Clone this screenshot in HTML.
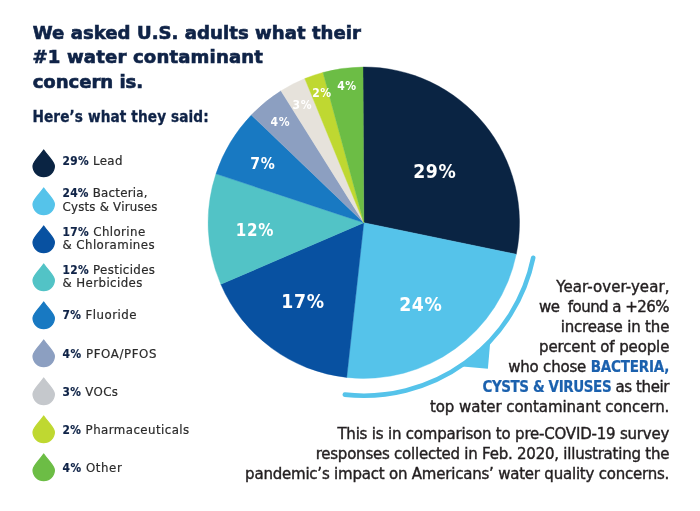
<!DOCTYPE html><html lang="en"><head><meta charset="utf-8"><title>Water contaminant concerns</title><style>
html,body{margin:0;padding:0;background:#fff}
#w{position:relative;width:700px;height:511px;overflow:hidden;background:#fff;font-family:"DejaVu Sans","Liberation Sans",sans-serif}
.t{position:absolute;white-space:nowrap;line-height:24px;height:24px}
.h{font-weight:700;color:#0f2347;-webkit-text-stroke:0.65px #0f2347}
.s{font-family:"DejaVu Sans Condensed","DejaVu Sans","Liberation Sans",sans-serif;font-weight:700;color:#0f2347;-webkit-text-stroke:0.3px #0f2347}
.g{color:#2b2b2b;-webkit-text-stroke:0.2px #2b2b2b}
.g b{font-family:"DejaVu Sans Condensed","DejaVu Sans","Liberation Sans",sans-serif;color:#0f2347;-webkit-text-stroke:0.2px #0f2347}
.p{color:#231f20;-webkit-text-stroke:0.4px #231f20}
.p i{font-family:"DejaVu Sans Condensed","DejaVu Sans","Liberation Sans",sans-serif;font-style:normal;font-weight:700;color:#1b61ae;-webkit-text-stroke:0.2px #1b61ae}
</style></head><body><div id="w"><svg width="700" height="511" viewBox="0 0 700 511" style="position:absolute;left:0;top:0"><path d="M363.8,222.7 L362.98,67.00 A155.7,155.7 0 0 1 516.26,254.27 Z" fill="#0a2443" stroke="#0a2443" stroke-width="0.4"/><path d="M363.8,222.7 L516.26,254.27 A155.7,155.7 0 0 1 346.71,377.46 Z" fill="#55c3ea" stroke="#55c3ea" stroke-width="0.4"/><path d="M363.8,222.7 L346.71,377.46 A155.7,155.7 0 0 1 220.80,284.29 Z" fill="#0851a1" stroke="#0851a1" stroke-width="0.4"/><path d="M363.8,222.7 L220.80,284.29 A155.7,155.7 0 0 1 215.97,173.81 Z" fill="#52c3c6" stroke="#52c3c6" stroke-width="0.4"/><path d="M363.8,222.7 L215.97,173.81 A155.7,155.7 0 0 1 251.33,115.03 Z" fill="#1879c2" stroke="#1879c2" stroke-width="0.4"/><path d="M363.8,222.7 L251.33,115.03 A155.7,155.7 0 0 1 280.99,90.85 Z" fill="#8c9fc1" stroke="#8c9fc1" stroke-width="0.4"/><path d="M363.8,222.7 L280.99,90.85 A155.7,155.7 0 0 1 304.79,78.61 Z" fill="#e6e2db" stroke="#e6e2db" stroke-width="0.4"/><path d="M363.8,222.7 L304.79,78.61 A155.7,155.7 0 0 1 322.98,72.45 Z" fill="#bfd831" stroke="#bfd831" stroke-width="0.4"/><path d="M363.8,222.7 L322.98,72.45 A155.7,155.7 0 0 1 362.98,67.00 Z" fill="#6cbd45" stroke="#6cbd45" stroke-width="0.4"/><path d="M533.21,257.78 A173.0,173.0 0 0 1 344.82,394.66" fill="none" stroke="#55c3ea" stroke-width="4.6" stroke-linecap="round"/><path d="M490.1,343.2 L487.9,368.8 L462.5,366.6 L477,350 Z" fill="#55c3ea"/><g fill="#fff" font-family="DejaVu Sans Condensed, DejaVu Sans, Liberation Sans, sans-serif" font-weight="700"><text x="434.85" y="177.8" font-size="19.2" letter-spacing="0.7" text-anchor="middle">29%</text><text x="420.85" y="311" font-size="19.2" letter-spacing="0.7" text-anchor="middle">24%</text><text x="302.95" y="308" font-size="19.2" letter-spacing="0.7" text-anchor="middle">17%</text><text x="254.95" y="236" font-size="16.8" letter-spacing="0.7" text-anchor="middle">12%</text><text x="262.95" y="169" font-size="15.6" letter-spacing="0.7" text-anchor="middle">7%</text><text x="280.30" y="126" font-size="12" letter-spacing="0.6" text-anchor="middle">4%</text><text x="302.30" y="109" font-size="12" letter-spacing="0.6" text-anchor="middle">3%</text><text x="321.90" y="97" font-size="12" letter-spacing="0.6" text-anchor="middle">2%</text><text x="346.90" y="90" font-size="12" letter-spacing="0.6" text-anchor="middle">4%</text></g><path transform="translate(43.7,149)" d="M0,1 C-6.4,9.8 -10.7,13.4 -10.7,16.9 A10.7,10.7 0 1 0 10.7,16.9 C10.7,13.4 6.4,9.8 0,1Z" fill="#0a2443" stroke="#0a2443" stroke-width="1.2" stroke-linejoin="round"/><path transform="translate(43.7,187)" d="M0,1 C-6.4,9.8 -10.7,13.4 -10.7,16.9 A10.7,10.7 0 1 0 10.7,16.9 C10.7,13.4 6.4,9.8 0,1Z" fill="#55c3ea" stroke="#55c3ea" stroke-width="1.2" stroke-linejoin="round"/><path transform="translate(43.7,225)" d="M0,1 C-6.4,9.8 -10.7,13.4 -10.7,16.9 A10.7,10.7 0 1 0 10.7,16.9 C10.7,13.4 6.4,9.8 0,1Z" fill="#0851a1" stroke="#0851a1" stroke-width="1.2" stroke-linejoin="round"/><path transform="translate(43.7,263)" d="M0,1 C-6.4,9.8 -10.7,13.4 -10.7,16.9 A10.7,10.7 0 1 0 10.7,16.9 C10.7,13.4 6.4,9.8 0,1Z" fill="#52c3c6" stroke="#52c3c6" stroke-width="1.2" stroke-linejoin="round"/><path transform="translate(43.7,301)" d="M0,1 C-6.4,9.8 -10.7,13.4 -10.7,16.9 A10.7,10.7 0 1 0 10.7,16.9 C10.7,13.4 6.4,9.8 0,1Z" fill="#1879c2" stroke="#1879c2" stroke-width="1.2" stroke-linejoin="round"/><path transform="translate(43.7,339)" d="M0,1 C-6.4,9.8 -10.7,13.4 -10.7,16.9 A10.7,10.7 0 1 0 10.7,16.9 C10.7,13.4 6.4,9.8 0,1Z" fill="#8c9fc1" stroke="#8c9fc1" stroke-width="1.2" stroke-linejoin="round"/><path transform="translate(43.7,377)" d="M0,1 C-6.4,9.8 -10.7,13.4 -10.7,16.9 A10.7,10.7 0 1 0 10.7,16.9 C10.7,13.4 6.4,9.8 0,1Z" fill="#c5c8cc" stroke="#c5c8cc" stroke-width="1.2" stroke-linejoin="round"/><path transform="translate(43.7,415)" d="M0,1 C-6.4,9.8 -10.7,13.4 -10.7,16.9 A10.7,10.7 0 1 0 10.7,16.9 C10.7,13.4 6.4,9.8 0,1Z" fill="#bfd831" stroke="#bfd831" stroke-width="1.2" stroke-linejoin="round"/><path transform="translate(43.7,453)" d="M0,1 C-6.4,9.8 -10.7,13.4 -10.7,16.9 A10.7,10.7 0 1 0 10.7,16.9 C10.7,13.4 6.4,9.8 0,1Z" fill="#6cbd45" stroke="#6cbd45" stroke-width="1.2" stroke-linejoin="round"/></svg><div class="t h" id="t0" style="top:20.74px;font-size:18.1px;letter-spacing:0.032px;left:32.70px;">We asked U.S. adults what their</div><div class="t h" id="t1" style="top:44.74px;font-size:18.1px;letter-spacing:0.147px;left:32.50px;">#1 water contaminant</div><div class="t h" id="t2" style="top:69.74px;font-size:18.1px;letter-spacing:-0.049px;left:32.70px;">concern is.</div><div class="t s" id="t3" style="top:105.34px;font-size:15.2px;letter-spacing:0.104px;left:32.40px;">Here’s what they said:</div><div class="t g" id="t4" style="top:149.32px;font-size:11.8px;letter-spacing:0.341px;left:62.50px;"><b>29%</b> Lead</div><div class="t g" id="t5" style="top:181.42px;font-size:11.8px;letter-spacing:0.261px;left:62.50px;"><b>24%</b> Bacteria,</div><div class="t g" id="t6" style="top:194.82px;font-size:11.8px;letter-spacing:0.221px;left:62.50px;">Cysts &amp; Viruses</div><div class="t g" id="t7" style="top:219.52px;font-size:11.8px;letter-spacing:0.406px;left:62.50px;"><b>17%</b> Chlorine</div><div class="t g" id="t8" style="top:232.72px;font-size:11.8px;letter-spacing:0.434px;left:62.50px;">&amp; Chloramines</div><div class="t g" id="t9" style="top:258.22px;font-size:11.8px;letter-spacing:0.352px;left:62.50px;"><b>12%</b> Pesticides</div><div class="t g" id="t10" style="top:271.32px;font-size:11.8px;letter-spacing:0.413px;left:62.50px;">&amp; Herbicides</div><div class="t g" id="t11" style="top:302.92px;font-size:11.8px;letter-spacing:0.448px;left:62.50px;"><b>7%</b> Fluoride</div><div class="t g" id="t12" style="top:341.92px;font-size:11.8px;letter-spacing:0.584px;left:62.50px;"><b>4%</b> PFOA/PFOS</div><div class="t g" id="t13" style="top:379.92px;font-size:11.8px;letter-spacing:0.366px;left:62.50px;"><b>3%</b> VOCs</div><div class="t g" id="t14" style="top:417.92px;font-size:11.8px;letter-spacing:0.439px;left:62.50px;"><b>2%</b> Pharmaceuticals</div><div class="t g" id="t15" style="top:456.22px;font-size:11.8px;letter-spacing:0.574px;left:62.50px;"><b>4%</b> Other</div><div class="t p" id="t16" style="top:275.31px;font-size:15px;letter-spacing:0.060px;right:30.54px;">Year-over-year,</div><div class="t p" id="t17" style="top:295.21px;font-size:15px;letter-spacing:-0.552px;right:31.15px;">we&nbsp; found a +26%</div><div class="t p" id="t18" style="top:315.11px;font-size:15px;letter-spacing:-0.168px;right:30.77px;">increase in the</div><div class="t p" id="t19" style="top:335.11px;font-size:15px;letter-spacing:-0.119px;right:30.72px;">percent of people</div><div class="t p" id="t20" style="top:355.21px;font-size:15px;letter-spacing:-0.200px;right:30.80px;">who chose <i>BACTERIA,</i></div><div class="t p" id="t21" style="top:375.21px;font-size:15px;letter-spacing:-0.411px;right:31.01px;"><i>CYSTS &amp; VIRUSES</i> as their</div><div class="t p" id="t22" style="top:395.31px;font-size:15px;letter-spacing:-0.055px;right:30.66px;">top water contaminant concern.</div><div class="t p" id="t23" style="top:422.11px;font-size:15px;letter-spacing:-0.204px;right:30.80px;">This is in comparison to pre-COVID-19 survey</div><div class="t p" id="t24" style="top:442.11px;font-size:15px;letter-spacing:-0.233px;right:30.83px;">responses collected in Feb. 2020, illustrating the</div><div class="t p" id="t25" style="top:462.21px;font-size:15px;letter-spacing:-0.215px;right:30.82px;">pandemic’s impact on Americans’ water quality concerns.</div></div></body></html>
